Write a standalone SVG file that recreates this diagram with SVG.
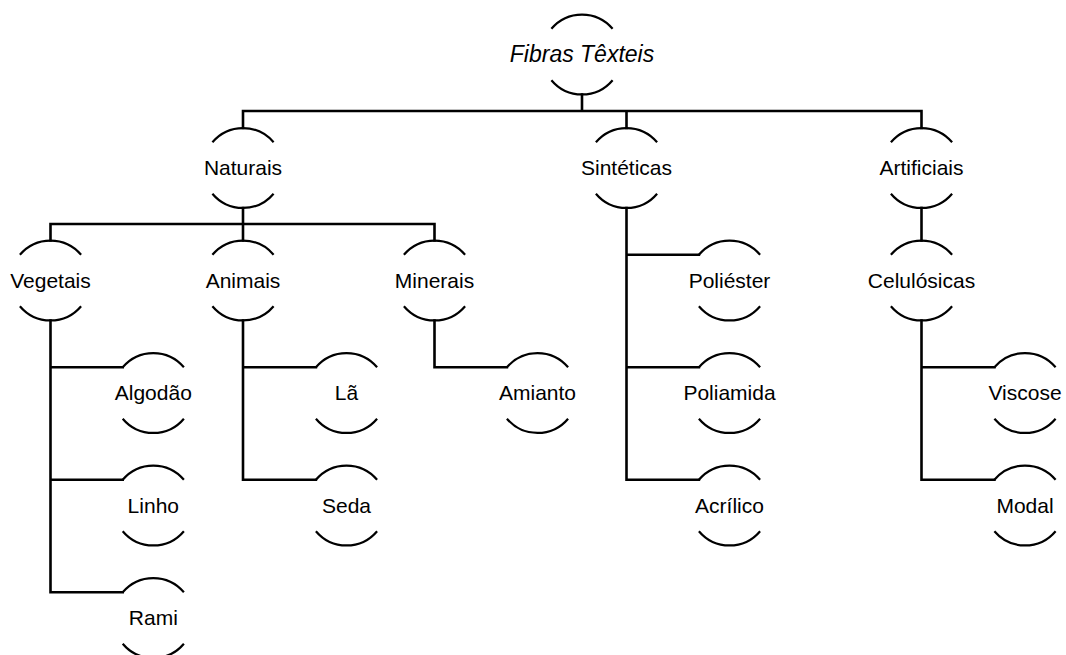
<svg xmlns="http://www.w3.org/2000/svg" width="1066" height="655" viewBox="0 0 1066 655">
<style>
.arc{fill:none;stroke:#000;stroke-width:2.2}
.con{fill:none;stroke:#000;stroke-width:2.6;stroke-linejoin:miter;stroke-linecap:square}
.t{font-family:"Liberation Sans",Arial,sans-serif;font-size:21px;fill:#000;text-anchor:middle}
.ti{font-family:"Liberation Sans",Arial,sans-serif;font-size:23px;font-style:italic;fill:#000;text-anchor:middle}
</style>
<defs>
<g id="shape">
<path class="arc" d="M-30.6,-25.7 A40,40 0 0 1 30.6,-25.7"/>
<path class="arc" d="M-30.6,25.7 A40,40 0 0 0 30.6,25.7"/>
</g>
</defs>
<rect width="1066" height="655" fill="#fff"/>
<g id="connectors">
<path class="con" d="M582,94.5 V111 M243,128 V111 H921.5 V128 M626.5,111 V128"/>
<path class="con" d="M243,208 V224 M50.5,240.5 V224 H434.5 V240.5 M243,224 V240.5"/>
<path class="con" d="M50.5,320.5 V592.3 H122.7 M50.5,367.3 H122.7 M50.5,479.8 H122.7"/>
<path class="con" d="M243,320.5 V479.8 H315.9 M243,367.3 H315.9"/>
<path class="con" d="M434.5,320.5 V367.3 H506.9"/>
<path class="con" d="M626.5,208 V479.8 H698.9 M626.5,367.3 H698.9 M626.5,254.8 H698.9"/>
<path class="con" d="M921.5,208 V240.5"/>
<path class="con" d="M921.5,320.5 V479.8 H994.4 M921.5,367.3 H994.4"/>
</g>
<g id="root" transform="translate(582,54.5)"><use href="#shape"/><text class="ti" x="0" y="7.5">Fibras Têxteis</text></g>
<g id="naturais" transform="translate(243,168)"><use href="#shape"/><text class="t" x="0" y="7">Naturais</text></g>
<g id="sinteticas" transform="translate(626.5,168)"><use href="#shape"/><text class="t" x="0" y="7">Sintéticas</text></g>
<g id="artificiais" transform="translate(921.5,168)"><use href="#shape"/><text class="t" x="0" y="7">Artificiais</text></g>
<g id="vegetais" transform="translate(50.5,280.5)"><use href="#shape"/><text class="t" x="0" y="7">Vegetais</text></g>
<g id="animais" transform="translate(243,280.5)"><use href="#shape"/><text class="t" x="0" y="7">Animais</text></g>
<g id="minerais" transform="translate(434.5,280.5)"><use href="#shape"/><text class="t" x="0" y="7">Minerais</text></g>
<g id="celulosicas" transform="translate(921.5,280.5)"><use href="#shape"/><text class="t" x="0" y="7">Celulósicas</text></g>
<g id="algodao" transform="translate(153.3,393)"><use href="#shape"/><text class="t" x="0" y="7">Algodão</text></g>
<g id="linho" transform="translate(153.3,505.5)"><use href="#shape"/><text class="t" x="0" y="7">Linho</text></g>
<g id="rami" transform="translate(153.3,618)"><use href="#shape"/><text class="t" x="0" y="7">Rami</text></g>
<g id="la" transform="translate(346.5,393)"><use href="#shape"/><text class="t" x="0" y="7">Lã</text></g>
<g id="seda" transform="translate(346.5,505.5)"><use href="#shape"/><text class="t" x="0" y="7">Seda</text></g>
<g id="amianto" transform="translate(537.5,393)"><use href="#shape"/><text class="t" x="0" y="7">Amianto</text></g>
<g id="poliester" transform="translate(729.5,280.5)"><use href="#shape"/><text class="t" x="0" y="7">Poliéster</text></g>
<g id="poliamida" transform="translate(729.5,393)"><use href="#shape"/><text class="t" x="0" y="7">Poliamida</text></g>
<g id="acrilico" transform="translate(729.5,505.5)"><use href="#shape"/><text class="t" x="0" y="7">Acrílico</text></g>
<g id="viscose" transform="translate(1025,393)"><use href="#shape"/><text class="t" x="0" y="7">Viscose</text></g>
<g id="modal" transform="translate(1025,505.5)"><use href="#shape"/><text class="t" x="0" y="7">Modal</text></g>
</svg>
